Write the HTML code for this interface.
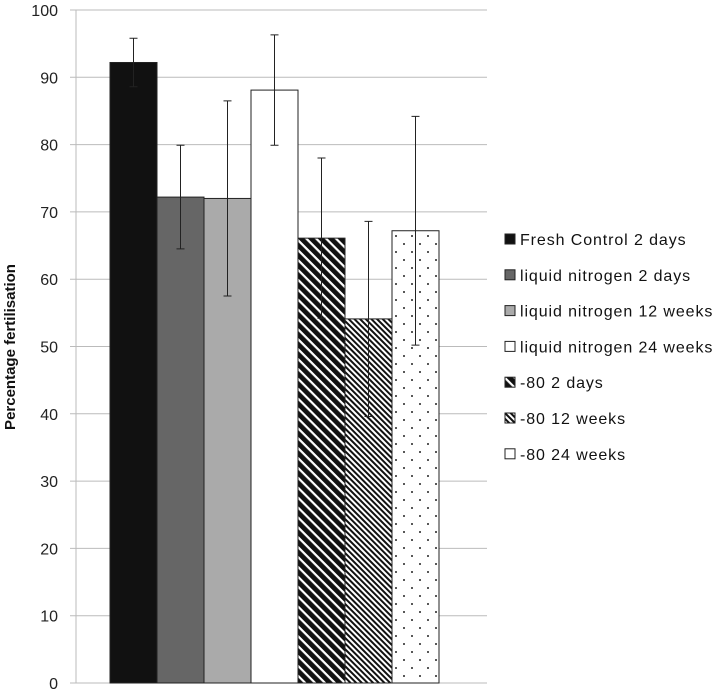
<!DOCTYPE html>
<html><head><meta charset="utf-8"><style>body{margin:0;background:#fff}svg{font-family:"Liberation Sans",sans-serif}</style></head>
<body>
<svg width="718" height="695">
<defs>
<pattern id="p5" patternUnits="userSpaceOnUse" width="7" height="7" patternTransform="rotate(-45)"><rect width="7" height="7" fill="#fff"/><rect width="4.8" height="7" fill="#111"/></pattern>
<pattern id="p6" patternUnits="userSpaceOnUse" width="4" height="4" patternTransform="rotate(-45)"><rect width="4" height="4" fill="#fff"/><rect width="2" height="4" fill="#111"/></pattern>
<pattern id="p7" patternUnits="userSpaceOnUse" width="16" height="16"><rect width="16" height="16" fill="#fff"/><circle cx="4" cy="4" r="1" fill="#222"/><circle cx="12" cy="12" r="1" fill="#222"/></pattern>
</defs>
<g id="g"></g>
</svg>
<script>
const categories=["Fresh Control 2 days","liquid nitrogen 2 days","liquid nitrogen 12 weeks","liquid nitrogen 24 weeks","-80 2 days","-80 12 weeks","-80 24 weeks"];
const values=[92.2,72.2,72.0,88.1,66.1,54.1,67.2];
const errors=[3.6,7.7,14.5,8.2,11.9,14.5,17.0];
const yTicks=[0,10,20,30,40,50,60,70,80,90,100];
const fills=["#111","#666","#aaa","#fff","url(#p5)","url(#p6)","url(#p7)"];
const NS="http://www.w3.org/2000/svg",g=document.getElementById('g');
const y=v=>683-v*6.73, x=i=>110+i*47, bw=47;
function mk(t,a,txt){const e=document.createElementNS(NS,t);for(const k in a)e.setAttribute(k,a[k]);if(txt!==undefined)e.textContent=txt;g.appendChild(e);return e;}
yTicks.forEach(t=>{
 const l=mk('line',{x1:70,x2:487,y1:y(t),y2:y(t),stroke:'#bbb','stroke-width':1});
 
 
 const tx=mk('text',{x:58,y:y(t)+6,'text-anchor':'end','font-size':16,fill:'#222'},t);
 
 
});
const ax=mk('line',{x1:76,x2:76,y1:y(100),y2:683,stroke:'#bbb'});


const yt=mk('text',{transform:'translate(15,347) rotate(-90)','text-anchor':'middle','font-size':15,'font-weight':'bold',fill:'#111'},'Percentage fertilisation');


values.forEach((v,i)=>{
 const r=mk('rect',{x:x(i),y:y(v),width:bw,height:683-y(v),fill:fills[i],stroke:'#222','stroke-width':1});
 
 
 const cx=x(i)+bw/2,hi=y(v+errors[i]),lo=y(v-errors[i]);
 const e=mk('path',{d:`M${cx},${hi}V${lo}M${cx-4},${hi}H${cx+4}M${cx-4},${lo}H${cx+4}`,stroke:'#222','stroke-width':1,fill:'none'});
 
 
 const ly=240+i*35.8;
 const s=mk('rect',{x:505,y:ly-6,width:10,height:10,fill:fills[i],stroke:'#222'});
 
 
 const t=mk('text',{x:520,y:ly+5,'font-size':16,'letter-spacing':0.9,fill:'#111'},categories[i]);
 
 
});
</script>
</body></html>
